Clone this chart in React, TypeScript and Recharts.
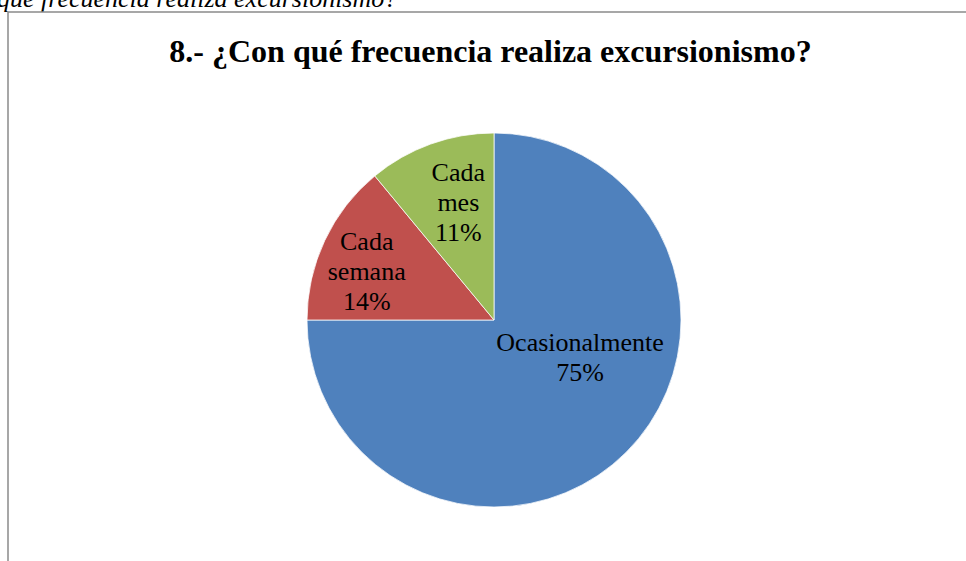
import { PieChart, Pie, Cell } from "recharts";

// ── Data ──────────────────────────────────────────────────────────────────────

const CATEGORIES = ["Ocasionalmente", "Cada semana", "Cada mes"];
const LABEL_LINES = [["Ocasionalmente"], ["Cada", "semana"], ["Cada", "mes"]];
const PERCENTS = [75, 14, 11];
const COLORS = ["#4F81BD", "#C0504D", "#9BBB59"];

// label placement (fraction of radius, angle shift from slice middle)
const LABEL_POS = [
  { r: 0.5, shift: 22 },
  { r: 0.73, shift: 4 },
  { r: 0.66, shift: -3 },
];

const data = CATEGORIES.map((name, i) => ({ name, value: PERCENTS[i] }));

const RAD = Math.PI / 180;
const FONT = "'Liberation Serif', 'Times New Roman', serif";

function SliceLabel(props: any) {
  const { cx, cy, midAngle, outerRadius, index, value } = props;
  const pos = LABEL_POS[index];
  const a = (midAngle + pos.shift) * RAD;
  const x = cx + outerRadius * pos.r * Math.cos(a);
  const y = cy - outerRadius * pos.r * Math.sin(a);
  const lines = [...LABEL_LINES[index], `${value}%`];
  const lh = 30;
  const y0 = y - ((lines.length - 1) * lh) / 2;
  return (
    <text
      x={x}
      y={y0}
      textAnchor="middle"
      dominantBaseline="central"
      fontFamily={FONT}
      fontSize={26}
      fill="#000"
    >
      {lines.map((l, i) => (
        <tspan key={i} x={x} y={y0 + i * lh} dominantBaseline="central">
          {l}
        </tspan>
      ))}
    </text>
  );
}

export default function App() {
  return (
    <div
      style={{
        position: "fixed",
        left: 0,
        top: 0,
        width: 966,
        height: 561,
        overflow: "hidden",
        background: "#fff",
      }}
    >
      <svg
        width={966}
        height={561}
        style={{ position: "absolute", left: 0, top: 0 }}
      >
        <text
          x={-3}
          y={7}
          fontFamily={FONT}
          fontStyle="italic"
          fontSize={26}
          fill="#000"
        >
          qué frecuencia realiza excursionismo?
        </text>
        <rect
          x={8}
          y={12}
          width={1000}
          height={600}
          fill="none"
          stroke="#8a8a8a"
          strokeWidth={1.5}
        />
        <text
          x={490.5}
          y={62}
          textAnchor="middle"
          fontFamily={FONT}
          fontWeight="bold"
          fontSize={32}
          fill="#000"
        >
          8.- ¿Con qué frecuencia realiza excursionismo?
        </text>
      </svg>
      <div style={{ position: "absolute", left: 0, top: 0 }}>
        <PieChart
          width={966}
          height={561}
          margin={{ top: 0, right: 0, bottom: 0, left: 0 }}
        >
          <Pie
            data={data}
            dataKey="value"
            nameKey="name"
            cx={494}
            cy={320}
            outerRadius={187}
            startAngle={90}
            endAngle={-270}
            stroke="#ffffff"
            strokeWidth={0.75}
            label={SliceLabel}
            labelLine={false}
            isAnimationActive={false}
          >
            {data.map((d, i) => (
              <Cell key={d.name} fill={COLORS[i]} />
            ))}
          </Pie>
        </PieChart>
      </div>
    </div>
  );
}
